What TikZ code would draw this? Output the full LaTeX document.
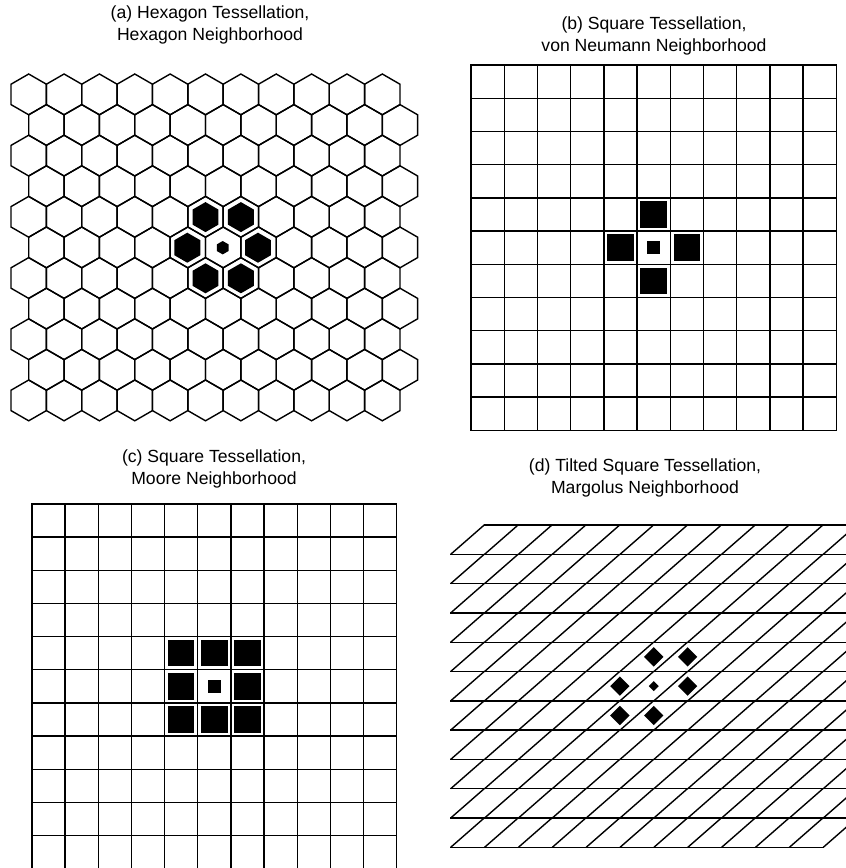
\documentclass[tikz,border=0pt]{standalone}
\usepackage{fontspec}
\setmainfont{Liberation Sans}
\usetikzlibrary{positioning}

\begin{document}
\begin{tikzpicture}[x=1bp, y=-1bp,
  lattice/.style={line width=1.4bp, line cap=rect},
  hexline/.style={line width=1.4bp, line join=miter},
  title/.style={align=center, inner sep=0pt, font=\fontsize{17.6bp}{21.5bp}\selectfont},
  mark cell/.style={fill=black, draw=none}
]
  \useasboundingbox (0,0) rectangle (846,868);

  % titles
  \node[title] (titleA) at (210,25) {(a) Hexagon Tessellation,\\Hexagon Neighborhood};
  \node[title] (titleB) at (654,36) {(b) Square Tessellation,\\von Neumann Neighborhood};
  \node[title] (titleC) at (214,469) {(c) Square Tessellation,\\Moore Neighborhood};
  \node[title] (titleD) at (645,478) {(d) Tilted Square Tessellation,\\Margolus Neighborhood};

  % (a) hexagons
  \foreach \r in {0,...,10}
    \foreach \c in {0,...,10} {
      \pgfmathsetmacro\hx{28.7+35.36*\c+17.68*mod(\r,2)}
      \pgfmathsetmacro\hy{94.4+30.6*\r}
      \draw[hexline] (\hx,\hy) +(90:20.4) -- +(30:20.4) -- +(-30:20.4) -- +(-90:20.4)
        -- +(-150:20.4) -- +(150:20.4) -- cycle;
    }
  \foreach \hx/\hy/\s in {205.5/217.1/15, 240.9/217.1/15, 187.3/247.7/15, 258.0/247.7/15,
                          205.5/278.3/15, 240.9/278.3/15, 222.7/247.7/6.7}
    \fill[mark cell] (\hx,\hy) +(90:\s) -- +(30:\s) -- +(-30:\s) -- +(-90:\s)
      -- +(-150:\s) -- +(150:\s) -- cycle;

  % (b) von Neumann
  \foreach \i in {0,...,11} {
    \draw[lattice] ({471+33.2*\i},65) -- ({471+33.2*\i},430.2);
    \draw[lattice] (471,{65+33.2*\i}) -- (836.2,{65+33.2*\i});
  }
  \foreach \c/\r/\s in {5/4/13.3, 4/5/13.3, 6/5/13.3, 5/6/13.3, 5/5/6.5}
    \fill[mark cell] ({471+33.2*(\c+0.5)-\s},{65+33.2*(\r+0.5)-\s})
      rectangle ++({2*\s},{2*\s});

  % (c) Moore
  \foreach \i in {0,...,11} {
    \draw[lattice] ({32+33.15*\i},504) -- ({32+33.15*\i},868.7);
    \draw[lattice] (32,{504+33.15*\i}) -- (396.7,{504+33.15*\i});
  }
  \foreach \c/\r/\s in {4/4/13.3, 5/4/13.3, 6/4/13.3, 4/5/13.3, 6/5/13.3,
                        4/6/13.3, 5/6/13.3, 6/6/13.3, 5/5/6.5}
    \fill[mark cell] ({32+33.15*(\c+0.5)-\s},{504+33.15*(\r+0.5)-\s})
      rectangle ++({2*\s},{2*\s});

  % (d) tilted squares
  \foreach \k in {0,...,11} {
    \pgfmathsetmacro\xa{\k==0 ? 484.2 : 450.7}
    \pgfmathsetmacro\xb{\k==11 ? 823.3 : 857.0}
    \draw[lattice] (\xa,{525+29.3*\k}) -- (\xb,{525+29.3*\k});
  }
  \foreach \r in {0,...,10}
    \foreach \i in {0,...,11}
      \draw[hexline] ({450.7+33.87*\i},{525+29.3*(\r+1)}) -- ++(33.5,-29.3);
  \foreach \c/\r/\s in {5/4/9.7, 6/4/9.7, 4/5/9.7, 6/5/9.7, 4/6/9.7, 5/6/9.7, 5/5/5}
    \fill[mark cell] ({450.7+33.87*\c+33.7},{525+29.3*(\r+0.5)})
      +(-\s,0) -- +(0,-\s) -- +(\s,0) -- +(0,\s) -- cycle;
\end{tikzpicture}
\end{document}
